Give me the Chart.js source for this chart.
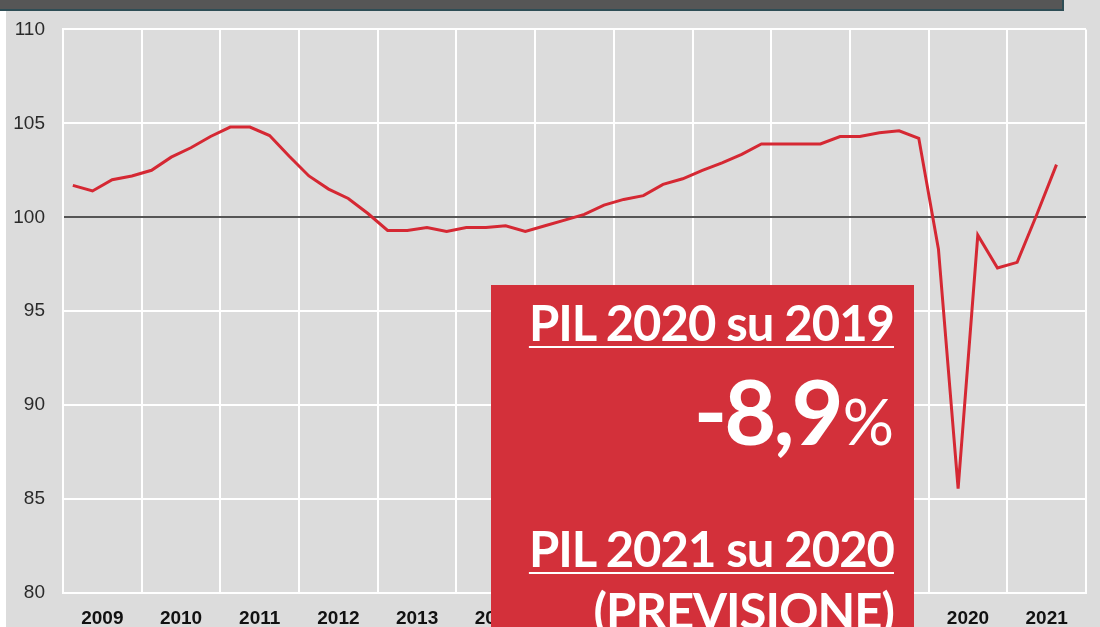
<!DOCTYPE html>
<html>
<head>
<meta charset="utf-8">
<script src="https://cdn.jsdelivr.net/npm/chart.js@4/dist/chart.umd.min.js"></script>
<style>
  html, body { margin:0; padding:0; }
  body { width:1100px; height:627px; overflow:hidden; background:#dcdcdc; position:relative; font-family:"Liberation Sans", Arial, sans-serif; }
  #wrap { position:absolute; left:0; top:0; width:1100px; height:627px; }
  #topbar { position:absolute; left:0; top:0; width:1062px; height:9px; background:#565656; border-bottom:2px solid #2e4d55; border-right:2px solid #2e4d55; }
  #strip { position:absolute; left:0; top:11px; width:6px; height:616px; background:#ffffff; }
  #box { position:absolute; left:491px; top:285px; width:423px; height:360px; background:#d3303a; }
  .ln { position:absolute; right:206px; color:#ffffff; font-family:"Lato", "Open Sans", sans-serif; font-weight:700; white-space:nowrap; line-height:1; }
  .u { text-decoration:underline; text-decoration-thickness:2px; text-underline-offset:5px; }
</style>
</head>
<body>
<div id="wrap"><canvas id="c" width="1100" height="627"></canvas></div>
<div id="strip"></div>
<div id="topbar"></div>
<div id="box"></div>
<div class="ln u" style="top:298px;font-size:49px;letter-spacing:-1px;">PIL 2020 su 2019</div>
<div class="ln" style="top:365px;font-size:90px;line-height:90px;letter-spacing:-3px;">-8,9<span style="font-size:64px;font-weight:400;line-height:0;letter-spacing:0;margin-left:2px;">%</span></div>
<div class="ln u" style="top:524px;font-size:49px;letter-spacing:-1px;">PIL 2021 su 2020</div>
<div class="ln" style="top:586px;font-size:49px;letter-spacing:-1px;">(PREVISIONE)</div>
<script>
// ---- data ----
const years = ["2009","2010","2011","2012","2013","2014","2015","2016","2017","2018","2019","2020","2021"];
const quarters = ["T1","T2","T3","T4"];
const categories = years.flatMap(y => quarters.map(q => y + " " + q));
const pilIndex = [
  101.7, 101.4, 102.0, 102.2,   // 2009
  102.5, 103.2, 103.7, 104.3,   // 2010
  104.8, 104.8, 104.35, 103.25, // 2011
  102.2, 101.5, 101.0, 100.2,   // 2012
  99.3, 99.3, 99.45, 99.25,     // 2013
  99.45, 99.45, 99.55, 99.25,   // 2014
  99.55, 99.85, 100.15, 100.65, // 2015
  100.95, 101.15, 101.75, 102.05, // 2016
  102.5, 102.9, 103.35, 103.9,  // 2017
  103.9, 103.9, 103.9, 104.3,   // 2018
  104.3, 104.5, 104.6, 104.2,   // 2019
  98.3, 85.55, 99.05, 97.3,     // 2020
  97.6, 100.15, 102.8           // 2021
];
const yTicks = [80, 85, 90, 95, 100, 105, 110];

const points = pilIndex.map((v, i) => ({ x: i, y: v }));
const nQ = categories.length;

new Chart(document.getElementById('c'), {
  type: 'line',
  data: {
    datasets: [{
      label: 'PIL',
      data: points,
      borderColor: '#d52833',
      borderWidth: 3,
      pointRadius: 0,
      tension: 0,
      fill: false
    }]
  },
  options: {
    responsive: false,
    animation: false,
    layout: { padding: { top: 29, right: 12, left: 0, bottom: 0 } },
    plugins: { legend: { display: false }, tooltip: { enabled: false } },
    scales: {
      x: {
        type: 'linear',
        min: -0.5,
        max: nQ - 0.5,
        afterBuildTicks: (scale) => {
          const t = [];
          for (let v = -0.5; v <= nQ - 0.5 + 1e-9; v += 2) t.push({ value: v });
          scale.ticks = t;
        },
        afterFit: (scale) => { scale.height = 34; },
        grid: {
          drawTicks: false,
          lineWidth: 2,
          color: (ctx) => (ctx.tick && Math.abs(((ctx.tick.value + 0.5) % 4)) < 1e-6) ? '#ffffff' : 'rgba(0,0,0,0)'
        },
        border: { display: true, color: '#ffffff', width: 2 },
        ticks: {
          autoSkip: false,
          maxRotation: 0,
          padding: 14,
          color: '#111111',
          font: { family: '"Liberation Sans", Arial, sans-serif', size: 19, weight: 'bold' },
          callback: (value) => {
            const k = (value - 1.5) / 4;
            return (Number.isInteger(k) && years[k]) ? years[k] : '';
          }
        }
      },
      y: {
        min: 80,
        max: 110,
        afterBuildTicks: (scale) => { scale.ticks = yTicks.map(v => ({ value: v })); },
        afterFit: (scale) => { scale.width = 63; },
        grid: {
          drawTicks: false,
          lineWidth: 2,
          color: (ctx) => (ctx.tick && ctx.tick.value === 100) ? '#555555' : '#ffffff'
        },
        border: { display: true, color: '#ffffff', width: 2 },
        ticks: {
          padding: 18,
          color: '#2a2a2a',
          font: { family: '"Liberation Sans", Arial, sans-serif', size: 19 }
        }
      }
    }
  }
});
</script>
</body>
</html>
